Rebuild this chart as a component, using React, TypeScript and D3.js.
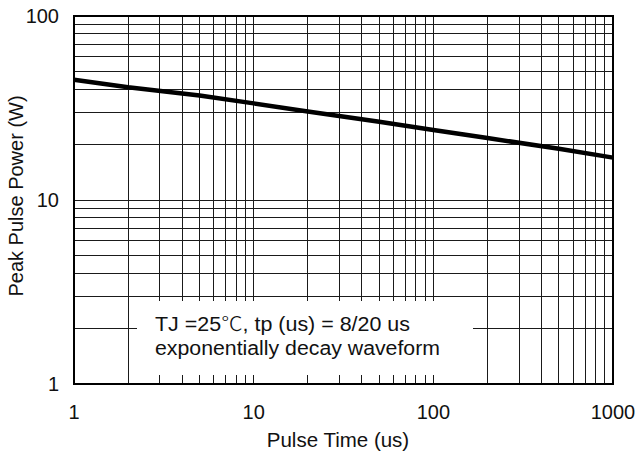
import React from "react";
import * as d3 from "d3";

const pulseTime = [1, 2, 5, 10, 20, 50, 100, 200, 500, 1000];
const peakPower = [45, 41, 37, 33.5, 30.3, 26.6, 24, 21.7, 19, 17];
const xTickValues = [1, 10, 100, 1000];
const yTickValues = [1, 10, 100];
const xTitle = "Pulse Time (us)";
const yTitle = "Peak Pulse Power (W)";
const notePrefix = "TJ =25";
const noteUnit = "\u2103";
const noteSuffix = ", tp (us) = 8/20 us";
const noteLine2 = "exponentially decay waveform";

const W = 637;
const H = 452;
const left = 74;
const right = 613;
const top = 16;
const bottom = 384;
const font = "'Liberation Sans', Arial, Helvetica, sans-serif";

export default function App() {
  const x = d3.scaleLog().domain([1, 1000]).range([left, right]);
  const y = d3.scaleLog().domain([1, 100]).range([bottom, top]);

  const xGrid: number[] = [];
  for (let d = 1; d < 1000; d *= 10) for (let k = 1; k <= 9; k++) xGrid.push(d * k);
  const yGrid: number[] = [];
  for (let d = 1; d < 100; d *= 10) for (let k = 1; k <= 9; k++) yGrid.push(d * k);

  const line = d3
    .line<number>()
    .x((_, i) => x(pulseTime[i]))
    .y((v) => y(v));

  return (
    <svg
      width={W}
      height={H}
      style={{ position: "absolute", left: 0, top: 0, background: "#fff" }}
      fontFamily={font}
    >
      <rect x={0} y={0} width={W} height={H} fill="#fff" />
      <g stroke="#1a1a1a" strokeWidth={1} shapeRendering="crispEdges">
        {xGrid.map((v) => (
          <line key={"x" + v} x1={x(v)} x2={x(v)} y1={top} y2={bottom} />
        ))}
        {yGrid.map((v) => (
          <line key={"y" + v} x1={left} x2={right} y1={y(v)} y2={y(v)} />
        ))}
      </g>
      <rect x={137} y={301} width={336} height={74} fill="#fff" />
      <rect
        x={left}
        y={top}
        width={right - left}
        height={bottom - top}
        fill="none"
        stroke="#000"
        strokeWidth={2}
        shapeRendering="crispEdges"
      />
      <path
        d={line(peakPower) || ""}
        fill="none"
        stroke="#000"
        strokeWidth={4.5}
        strokeLinejoin="round"
      />
      <g fontSize={20} fill="#111">
        {yTickValues.map((v) => (
          <text key={"yt" + v} x={59} y={y(v)} textAnchor="end" dominantBaseline="central">
            {v}
          </text>
        ))}
        {xTickValues.map((v) => (
          <text key={"xt" + v} x={x(v)} y={419} textAnchor="middle">
            {v}
          </text>
        ))}
      </g>
      <text x={338} y={447} textAnchor="middle" fontSize={20.5} fill="#111">
        {xTitle}
      </text>
      <text
        transform={`translate(23, 196) rotate(-90)`}
        textAnchor="middle"
        fontSize={20}
        fill="#111"
      >
        {yTitle}
      </text>
      <g fontSize={19.5} fill="#111">
        <text x={155} y={331} textLength={255} lengthAdjust="spacingAndGlyphs">
          {notePrefix}
          <tspan fontFamily="'Noto Sans CJK SC', sans-serif" fontWeight={300}>
            {noteUnit}
          </tspan>
          {noteSuffix}
        </text>
        <text x={155} y={355} textLength={285} lengthAdjust="spacingAndGlyphs">
          {noteLine2}
        </text>
      </g>
    </svg>
  );
}
